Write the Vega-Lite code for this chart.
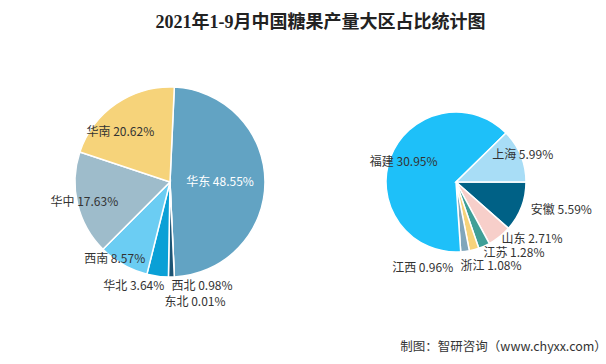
{
  "$schema": "https://vega.github.io/schema/vega-lite/v6.json",
  "background": "white",
  "padding": {"top": 14, "left": 0, "right": 34, "bottom": 0},
  "title": {"text": "2021年1-9月中国糖果产量大区占比统计图", "fontSize": 18, "fontWeight": "bold", "font": "Liberation Serif, Noto Sans CJK SC", "color": "#222222", "anchor": "middle", "dx": 17, "offset": 6},
  "config": {"view": {"stroke": null}, "text": {"font": "Noto Sans CJK SC", "fontSize": 12, "color": "#333333"}},
  "resolve": {"scale": {"color": "independent", "theta": "independent"}},
  "spacing": 0,
  "hconcat": [
    {
      "width": 340, "height": 288,
      "data": {"values": [
        {"region": "华东", "value": 48.55, "n": 1},
        {"region": "东北", "value": 0.01, "n": 2},
        {"region": "西北", "value": 0.98, "n": 3},
        {"region": "华北", "value": 3.64, "n": 4},
        {"region": "西南", "value": 8.57, "n": 5},
        {"region": "华中", "value": 17.63, "n": 6},
        {"region": "华南", "value": 20.62, "n": 7}
      ]},
      "transform": [
        {"stack": "value", "groupby": [], "sort": [{"field": "n"}], "as": ["v0", "v1"]},
        {"calculate": "(datum.v0 + datum.v1) / 2", "as": "mid"},
        {"calculate": "datum.region + ' ' + format(datum.value, '.2f') + '%'", "as": "label"}
      ],
      "encoding": {
        "theta": {"field": "mid", "type": "quantitative", "stack": null, "scale": {"domain": [0, 100], "nice": false, "range": [0.0454, 6.3286]}}
      },
      "layer": [
        {"mark": {"type": "arc", "outerRadius": 95, "stroke": "white", "strokeWidth": 1.5},
         "encoding": {
           "theta": {"field": "v0", "type": "quantitative", "stack": null},
           "theta2": {"field": "v1"},
           "color": {"field": "region", "type": "nominal", "legend": null,
           "scale": {"domain": ["华东", "东北", "西北", "华北", "西南", "华中", "华南"],
                     "range": ["#62a3c3", "#2a5d80", "#1b5474", "#0aa0d6", "#6bcdf3", "#9ebccb", "#f6d37a"]}}}},
        {"transform": [{"filter": "datum.region == '华东'"}], "mark": {"type": "text", "radius": 50, "color": "white"}, "encoding": {"text": {"field": "label"}}},
        {"transform": [{"filter": "datum.region == '华南'"}], "mark": {"type": "text", "radius": 70, "dx": -10, "dy": 8}, "encoding": {"text": {"field": "label"}}},
        {"transform": [{"filter": "datum.region == '华中'"}], "mark": {"type": "text", "radius": 88}, "encoding": {"text": {"field": "label"}}},
        {"transform": [{"filter": "datum.region == '西南'"}], "mark": {"type": "text", "radius": 88, "dx": -12}, "encoding": {"text": {"field": "label"}}},
        {"transform": [{"filter": "datum.region == '华北'"}], "mark": {"type": "text", "radius": 105, "align": "right", "dx": 8}, "encoding": {"text": {"field": "label"}}},
        {"transform": [{"filter": "datum.region == '西北'"}], "mark": {"type": "text", "radius": 104, "align": "left", "dx": 0}, "encoding": {"text": {"field": "label"}}},
        {"transform": [{"filter": "datum.region == '东北'"}], "mark": {"type": "text", "radius": 120, "align": "left", "dx": -11}, "encoding": {"text": {"field": "label"}}}
      ]
    },
    {
      "width": 232, "height": 288,
      "title": {"text": "制图：智研咨询（www.chyxx.com）", "orient": "bottom", "anchor": "end", "fontSize": 12.5, "fontWeight": "normal", "font": "Noto Sans CJK SC", "color": "#333333", "offset": 15, "dx": 15},
      "data": {"values": [
        {"province": "安徽", "value": 5.59, "n": 1},
        {"province": "山东", "value": 2.71, "n": 2},
        {"province": "江苏", "value": 1.28, "n": 3},
        {"province": "浙江", "value": 1.08, "n": 4},
        {"province": "江西", "value": 0.96, "n": 5},
        {"province": "福建", "value": 30.95, "n": 6},
        {"province": "上海", "value": 5.99, "n": 7}
      ]},
      "transform": [
        {"stack": "value", "groupby": [], "sort": [{"field": "n"}], "as": ["v0", "v1"]},
        {"calculate": "(datum.v0 + datum.v1) / 2", "as": "mid"},
        {"calculate": "datum.province + ' ' + format(datum.value, '.2f') + '%'", "as": "label"}
      ],
      "encoding": {
        "theta": {"field": "mid", "type": "quantitative", "stack": null, "scale": {"domain": [0, 48.56], "nice": false, "range": [1.5708, 7.854]}}
      },
      "layer": [
        {"mark": {"type": "arc", "outerRadius": 70, "stroke": "white", "strokeWidth": 1.5},
         "encoding": {
           "theta": {"field": "v0", "type": "quantitative", "stack": null},
           "theta2": {"field": "v1"},
           "color": {"field": "province", "type": "nominal", "legend": null,
           "scale": {"domain": ["安徽", "山东", "江苏", "浙江", "江西", "福建", "上海"],
                     "range": ["#006186", "#f7cfca", "#3f9f97", "#f6d37a", "#80a6bb", "#1ec0f9", "#a8ddf6"]}}}},
        {"transform": [{"filter": "datum.province == '福建'"}], "mark": {"type": "text", "radius": 56}, "encoding": {"text": {"field": "label"}}},
        {"transform": [{"filter": "datum.province == '上海'"}], "mark": {"type": "text", "radius": 72}, "encoding": {"text": {"field": "label"}}},
        {"transform": [{"filter": "datum.province == '安徽'"}], "mark": {"type": "text", "radius": 80, "align": "left"}, "encoding": {"text": {"field": "label"}}},
        {"transform": [{"filter": "datum.province == '山东'"}], "mark": {"type": "text", "radius": 73, "align": "left"}, "encoding": {"text": {"field": "label"}}},
        {"transform": [{"filter": "datum.province == '江苏'"}], "mark": {"type": "text", "radius": 78, "align": "left", "dx": -4}, "encoding": {"text": {"field": "label"}}},
        {"transform": [{"filter": "datum.province == '浙江'"}], "mark": {"type": "text", "radius": 87, "align": "left", "dx": -18}, "encoding": {"text": {"field": "label"}}},
        {"transform": [{"filter": "datum.province == '江西'"}], "mark": {"type": "text", "radius": 87, "align": "right", "dx": -14}, "encoding": {"text": {"field": "label"}}}
      ]
    }
  ]
}
